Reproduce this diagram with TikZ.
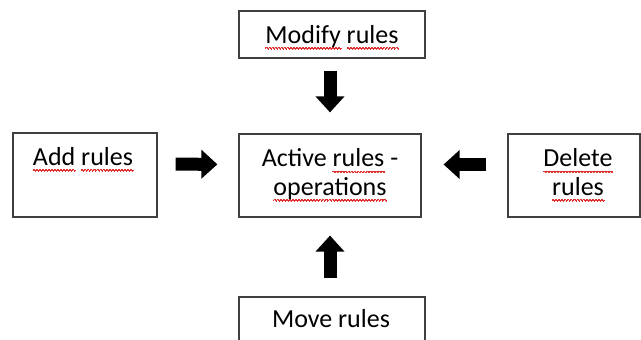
\documentclass[tikz,border=0pt]{standalone}
\usepackage{fontspec}
\setmainfont{Carlito}
\usetikzlibrary{arrows.meta}

\definecolor{boxline}{HTML}{404040}
\definecolor{spellred}{HTML}{E03030}

% red wavy spell-check underline
\newsavebox\spellbox
\newcommand\wavebit{\hbox{\setlength\unitlength{1pt}\begin{picture}(3,0)%
	\qbezier(0,0)(0.75,1.4)(1.5,0)\qbezier(1.5,0)(2.25,-1.4)(3,0)\end{picture}}}
\newcommand\spell[1]{\sbox\spellbox{#1}%
	\rlap{\lower5pt\hbox to\wd\spellbox{\color{spellred}\xleaders\wavebit\hfil}}\usebox\spellbox}

\tikzset{
	rulebox/.style={draw=boxline, line width=1.2pt, inner sep=0pt},
	lbl/.style={anchor=base, align=center, inner sep=0pt,
		font=\fontsize{26}{28.5}\selectfont},
	blockarrow/.style={line width=13pt, -{Triangle[length=16pt,width=28pt]}}
}

\begin{document}
\begin{tikzpicture}[x=1pt,y=-1pt]
	\useasboundingbox (0,0) rectangle (641,340);

	\node[rulebox, minimum width=186pt, minimum height=47pt] (modify) at (332,34.5) {};
	\node[rulebox, minimum width=144pt, minimum height=84pt] (add) at (85,175) {};
	\node[rulebox, minimum width=182pt, minimum height=83pt] (active) at (330,175.5) {};
	\node[rulebox, minimum width=132pt, minimum height=83pt] (delete) at (574,175.5) {};
	\node[rulebox, minimum width=186pt, minimum height=60pt] (move) at (332,327) {};

	% two-line labels sit on the baseline of their last line
	\node[lbl] (modifytxt) at (332,43) {\spell{Modify} \spell{rules}};
	\node[lbl] (addtxt) at (83,165) {\spell{Add} \spell{rules}};
	\node[lbl] (activetxt) at (330,195) {Active \spell{rules} -\\\spell{operations}};
	\node[lbl] (deletetxt) at (578,195) {\spell{Delete}\\\spell{rules}};
	\node[lbl] (movetxt) at (331,327) {Move rules};

	\draw[blockarrow, shorten <=12pt, shorten >=21pt] (active.north |- modify.south) -- (active.north);
	\draw[blockarrow, shorten <=18pt, shorten >=21pt] ([yshift=11pt]add.east) -- ([yshift=11pt]active.west);
	\draw[blockarrow, shorten <=21pt, shorten >=22pt] ([yshift=11pt]delete.west) -- ([yshift=11pt]active.east);
	\draw[blockarrow, shorten <=18pt, shorten >=18pt] (active.south |- move.north) -- (active.south);
\end{tikzpicture}
\end{document}
